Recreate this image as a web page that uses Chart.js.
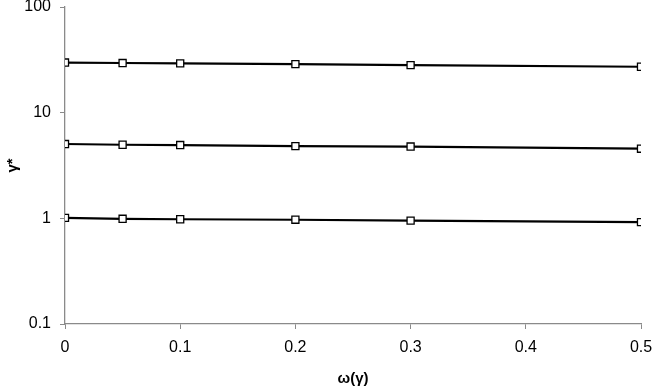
<!DOCTYPE html>
<html>
<head>
<meta charset="utf-8">
<script src="https://cdn.jsdelivr.net/npm/chart.js@4.4.0/dist/chart.umd.min.js"></script>
<style>
  html, body { margin: 0; padding: 0; background: #fff; }
  #wrap { width: 654px; height: 388px; }
</style>
</head>
<body>
<div id="wrap"><canvas id="myChart" width="654" height="388"></canvas></div>
<script>
    // omega(gamma) values on the x axis
    const omega = [0, 0.05, 0.1, 0.2, 0.3, 0.5]
    // gamma* for the three curves
    const gammaHigh = [29.8, 29.5, 29.3, 28.8, 28.2, 27.2]
    const gammaMid = [5.05, 4.97, 4.94, 4.83, 4.78, 4.56]
    const gammaLow = [1.01, 0.99, 0.98, 0.97, 0.95, 0.92]
    const yTicks = [0.1, 1, 10, 100]

    function toPoints(ys) {
      return omega.map(function (x, i) { return { x: x, y: ys[i] } })
    }

    function series(ys) {
      return {
        data: toPoints(ys),
        borderColor: '#000',
        borderWidth: 2.2,
        pointStyle: 'rect',
        pointRadius: 5,
        pointBackgroundColor: '#fff',
        pointBorderColor: '#000',
        pointBorderWidth: 1.3,
        tension: 0
      }
    }

    const axisGray = '#8a8a8a'
    const fam = "'Liberation Sans', Arial, sans-serif"
    const tickFont = { family: fam, size: 16 }

    const config = {
      type: 'line',
      data: {
        datasets: [series(gammaHigh), series(gammaMid), series(gammaLow)]
      },
      options: {
        responsive: false,
        animation: false,
        layout: { padding: { left: 4, top: 7, right: 13, bottom: 0 } },
        plugins: { legend: { display: false }, tooltip: { enabled: false } },
        scales: {
          x: {
            type: 'linear',
            min: 0,
            max: 0.5,
            ticks: {
              stepSize: 0.1,
              color: '#000',
              font: tickFont,
              padding: 9,
              maxRotation: 0,
              callback: function (v) { return +v.toFixed(1) }
            },
            grid: { drawOnChartArea: false, color: axisGray, tickLength: 5 },
            border: { color: axisGray, width: 1.3 },
            title: {
              display: true,
              text: 'ω(γ)',
              color: '#000',
              font: { family: fam, size: 15, weight: 'bold' },
              padding: { top: 6, bottom: 0 }
            },
            afterFit: function (scale) {
              scale.height = 64
              scale.paddingLeft = 0
              scale.paddingRight = 0
            }
          },
          y: {
            type: 'logarithmic',
            min: 0.1,
            max: 100,
            afterBuildTicks: function (scale) {
              scale.ticks = yTicks.map(function (v) { return { value: v } })
            },
            ticks: {
              color: '#000',
              font: tickFont,
              padding: 9,
              callback: function (v) { return String(v) }
            },
            grid: { drawOnChartArea: false, color: axisGray, tickLength: 5 },
            border: { color: axisGray, width: 1.3 },
            title: {
              display: true,
              text: 'γ*',
              color: '#000',
              font: { family: fam, size: 15, weight: 'bold' },
              padding: { top: 0, bottom: 0 }
            },
            afterFit: function (scale) {
              scale.width = 61
              scale.paddingTop = 0
              scale.paddingBottom = 0
            }
          }
        }
      }
    }

    const myChart = new Chart(document.getElementById('myChart'), config)
</script>
</body>
</html>
